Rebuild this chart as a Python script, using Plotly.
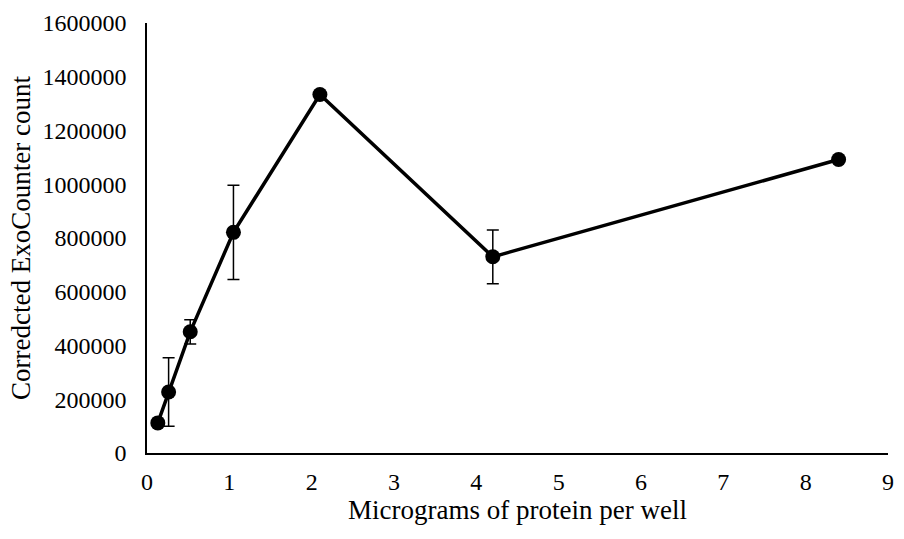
import plotly.graph_objects as go

protein_ug = [0.13125, 0.2625, 0.525, 1.05, 2.1, 4.2, 8.4]
counts = [112000, 227000, 451000, 821000, 1334000, 730000, 1092000]
errors = [0, 127000, 45000, 175000, 0, 100000, 0]

x_ticks = [0, 1, 2, 3, 4, 5, 6, 7, 8, 9]
y_ticks = [0, 200000, 400000, 600000, 800000, 1000000, 1200000, 1400000, 1600000]

font = "Liberation Serif, Times New Roman, serif"

fig = go.Figure(go.Scatter(
    x=protein_ug, y=counts, mode="lines+markers",
    line=dict(color="black", width=3.5),
    marker=dict(color="black", size=15),
    error_y=dict(type="data", array=errors, visible=True, color="black", thickness=1.5, width=6),
    showlegend=False,
))

fig.update_layout(
    width=904, height=539,
    margin=dict(l=147, r=10, t=18, b=86),
    paper_bgcolor="white", plot_bgcolor="white",
    font=dict(family=font, size=24, color="black"),
)
fig.update_xaxes(
    range=[0, 9], tickvals=x_ticks, ticktext=[str(v) for v in x_ticks],
    showgrid=False, zeroline=False, showline=True, linecolor="black", linewidth=1.5,
    ticks="", ticklen=0, ticklabelstandoff=6,
    title=dict(text="Micrograms of protein per well", standoff=6, font=dict(size=27)),
)
fig.update_yaxes(
    range=[0, 1600000], tickvals=y_ticks, ticktext=[str(v) for v in y_ticks],
    showgrid=False, zeroline=False, showline=True, linecolor="black", linewidth=1.5,
    ticks="", ticklen=0, ticklabelstandoff=14,
    title=dict(text="Corredcted ExoCounter count", standoff=4, font=dict(size=27)),
)

fig.write_html("out.html")
